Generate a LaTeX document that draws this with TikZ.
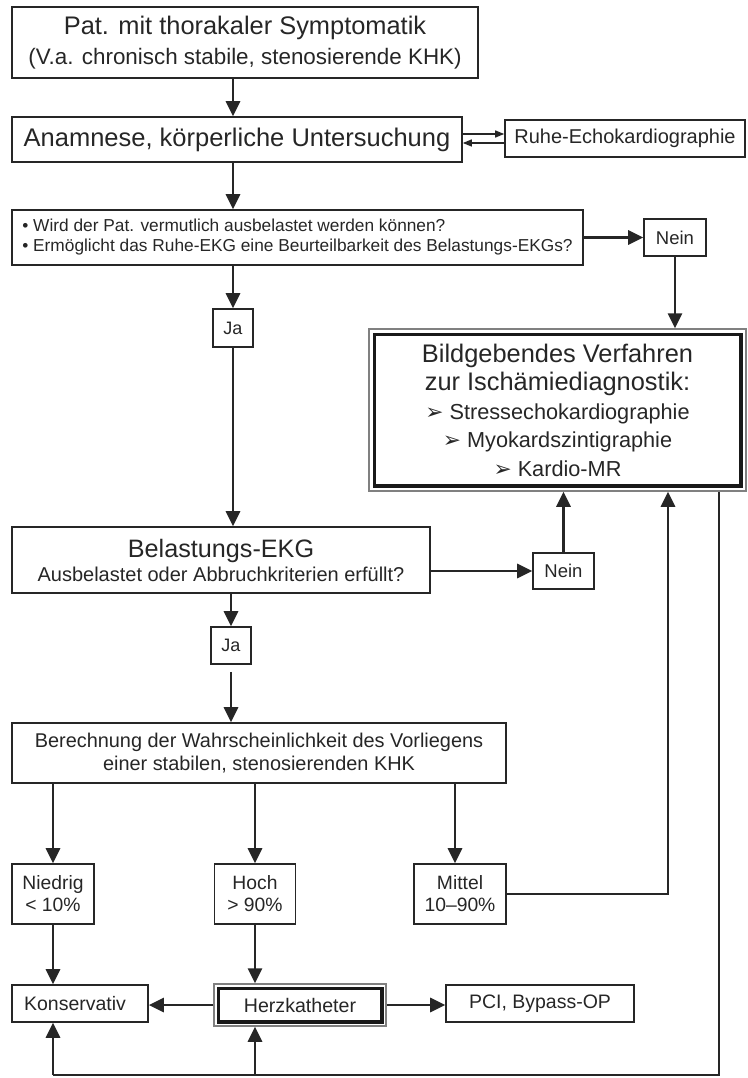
\documentclass[tikz,border=0pt]{standalone}
\usepackage{fontspec}
\setmainfont{Liberation Sans}
\newfontfamily\symf{DejaVu Sans}
\usetikzlibrary{arrows.meta,calc}
\newcommand{\fs}[2]{\fontsize{#1}{#2}\selectfont}
\begin{document}
\begin{tikzpicture}[x=1pt,y=-1pt,
  box/.style={draw=black!85, line width=1.6pt, inner sep=0pt, align=center, text=black!85},
  dbox/.style={draw=black!50, line width=1.5pt, inner sep=0pt, align=center, text=black!85},
  arr/.style={line width=2.8pt, draw=black!85, -{Triangle[length=15pt,width=14pt]}},
  ln/.style={line width=2.8pt, draw=black!85},
  tarr/.style={line width=1.3pt, draw=black!85, -{Triangle[length=9pt,width=7pt]}},
  inner/.style={line width=3.5pt, draw=black!90}
]
\useasboundingbox (0,0) rectangle (747,1078);

\node[box, minimum width=466pt, minimum height=71pt, font=\fs{25.4}{30}] (top) at (245,42.5)
  {Pat. mit thorakaler Symptomatik\\\fs{22.4}{30}(V.a. chronisch stabile, stenosierende KHK)};
\node[box, minimum width=450pt, minimum height=45pt, font=\fs{25.5}{30}] (anam) at (237,139.5)
  {Anamnese, körperliche Untersuchung};
\node[box, minimum width=240pt, minimum height=37pt, font=\fs{20}{24}] (echo) at (625,138.5)
  {Ruhe-Echokardiographie};
\node[box, minimum width=571pt, minimum height=55pt, align=left, font=\fs{17.3}{20}] (q) at (297.5,237.5)
  {• Wird der Pat. vermutlich ausbelastet werden können?\\
   • Ermöglicht das Ruhe-EKG eine Beurteilbarkeit des Belastungs-EKGs?};
\node[box, minimum width=62pt, minimum height=37pt, font=\fs{18.5}{22}] (nein1) at (675,237.5)
  {Nein};
\node[box, minimum width=40pt, minimum height=38pt, font=\fs{18}{22}] (ja1) at (233,328)
  {Ja};
\node[dbox, minimum width=377pt, minimum height=162pt, font=\fs{21.7}{28.5}] (bild) at (557.5,410)
  {\fs{25.4}{28.5}Bildgebendes Verfahren\\
   \fs{25.4}{28.5}zur Ischämiediagnostik:\\
   {\symf ➢} Stressechokardiographie\\
   {\symf ➢} Myokardszintigraphie\\
   {\symf ➢} Kardio-MR};
\draw[inner] ([shift={(6pt,-6pt)}]bild.north west) rectangle ([shift={(-6pt,6pt)}]bild.south east);
\node[box, minimum width=418pt, minimum height=66pt, font=\fs{20}{24}] (bel) at (221,560)
  {\fs{25.2}{24}Belastungs-EKG\\Ausbelastet oder Abbruchkriterien erfüllt?};
\node[box, minimum width=61pt, minimum height=36pt, font=\fs{18.5}{22}] (nein2) at (563.5,571)
  {Nein};
\node[box, minimum width=40pt, minimum height=37pt, font=\fs{18}{22}] (ja2) at (231,645.5)
  {Ja};
\node[box, minimum width=494pt, minimum height=60pt, font=\fs{19.9}{23}] (ber) at (259,753)
  {Berechnung der Wahrscheinlichkeit des Vorliegens\\einer stabilen, stenosierenden KHK};
\node[box, minimum width=82pt, minimum height=60pt, font=\fs{19.3}{22}] (nied) at (53,894)
  {Niedrig\\< 10\%};
\node[box, minimum width=81pt, minimum height=60pt, font=\fs{19.3}{22}] (hoch) at (255,894)
  {Hoch\\> 90\%};
\node[box, minimum width=92pt, minimum height=60pt, font=\fs{19.3}{22}] (mittel) at (460,894)
  {Mittel\\10–90\%};
\node[box, minimum width=136pt, minimum height=37pt, font=\fs{19.5}{22}] (kons) at (80,1003.5)
  {\hspace*{-10pt}Konservativ};
\node[dbox, minimum width=172pt, minimum height=42pt, font=\fs{19.6}{22}] (herz) at (300,1005)
  {Herzkatheter};
\draw[inner] ([shift={(5pt,-5pt)}]herz.north west) rectangle ([shift={(-5pt,5pt)}]herz.south east);
\node[box, minimum width=188pt, minimum height=37pt, font=\fs{19.5}{22}] (pci) at (540,1003.5)
  {PCI, Bypass-OP};

% connectors
\draw[arr] (top.south -| ja1) -- (anam.north -| ja1);
\draw[arr] (anam.south -| ja1) -- (q.north -| ja1);
\draw[arr] (q.south -| ja1) -- (ja1.north);
\draw[arr] (ja1.south) -- (bel.north -| ja1);

\coordinate (e1) at ([yshift=5.5pt]anam.east);
\coordinate (e2) at ([yshift=-3.5pt]anam.east);
\draw[tarr] (e1) -- (e1 -| echo.west);
\draw[tarr] (e2 -| echo.west) -- (e2);

\draw[arr] (q.east) -- (nein1.west);
\draw[arr] (nein1.south) -- (bild.north -| nein1);
\draw[arr] (bel.east |- nein2) -- (nein2.west);
\draw[arr] (nein2.north) -- (bild.south -| nein2);
\draw[arr] (bel.south -| ja2) -- (ja2.north);
\draw[arr] ([yshift=-7pt]ja2.south) -- (ber.north -| ja2);

\draw[arr] (ber.south -| nied) -- (nied.north);
\draw[arr] (ber.south -| hoch) -- (hoch.north);
\coordinate (mx) at (455,0);
\draw[arr] (ber.south -| mx) -- (mittel.north -| mx);

\coordinate (mup) at (668,0);
\draw[arr] (mittel.east) -| (bild.south -| mup);

\coordinate (rdx) at (719,1075);
\draw[ln, line join=miter] (bild.south -| rdx) -- (rdx) -- (rdx -| nied);
\draw[arr] (rdx -| nied) -- (kons.south -| nied);
\draw[arr] (rdx -| hoch) -- (herz.south -| hoch);

\draw[arr] (nied.south) -- (kons.north -| nied);
\draw[arr] (hoch.south) -- (herz.north -| hoch);
\draw[arr] (herz.west) -- (kons.east |- herz.west);
\draw[arr] (herz.east) -- (pci.west |- herz.east);
\end{tikzpicture}
\end{document}
